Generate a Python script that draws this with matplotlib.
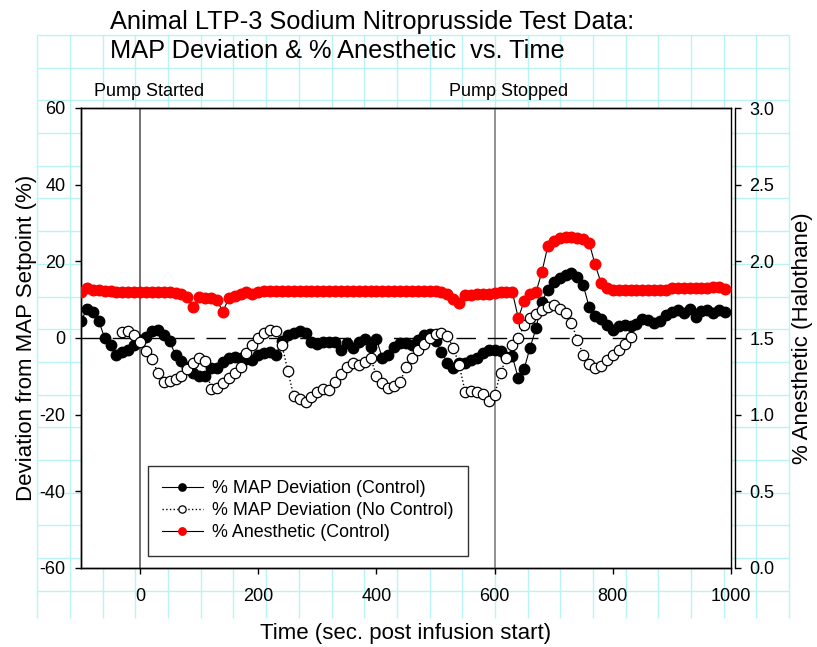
import numpy as np
import matplotlib
matplotlib.use("Agg")
import matplotlib.pyplot as plt

plt.rcParams['font.family'] = ['Liberation Sans', 'DejaVu Sans']
plt.rcParams['axes.unicode_minus'] = False

# time axis (sec. post infusion start), one sample every 10 s
t_ctrl = np.arange(-100, 1000, 10)
t_noctrl = np.arange(-30, 840, 10)

# % MAP deviation, with control
map_ctrl = [4.5, 7.5, 6.9, 4.5, 0.0, -1.8, -4.5, -3.6, -3.0, -1.8,
            -0.5, 0.3, 1.8, 2.1, 0.8, -0.8, -4.5, -6.0, -7.5, -9.2,
            -9.8, -10.0, -7.9, -7.9, -6.2, -5.3, -5.0, -5.2, -5.6, -5.7,
            -4.5, -3.9, -3.6, -4.4, -0.8, 0.8, 1.2, 1.8, 1.2, -1.0,
            -1.5, -1.0, -1.0, -1.0, -3.1, -1.4, -2.7, -1.0, -0.3, -2.3,
            -0.3, -5.3, -4.4, -2.3, -1.4, -1.2, -1.8, -0.5, 0.8, 1.0,
            -0.8, -3.6, -6.4, -7.9, -6.6, -6.6, -5.8, -5.2, -4.0, -3.2,
            -3.1, -3.5, -5.0, -4.8, -10.5, -8.0, -2.5, 2.5, 9.5, 12.6,
            14.5, 15.6, 16.5, 16.9, 15.8, 13.8, 8.0, 5.8, 5.0, 3.5,
            2.2, 3.2, 3.4, 3.1, 3.6, 5.0, 4.6, 3.8, 4.5, 6.0,
            6.8, 7.2, 6.4, 7.6, 5.5, 7.0, 7.3, 6.4, 7.4, 6.8]

# % MAP deviation, no control
map_noctrl = [1.5, 1.7, 0.8, -1.0, -3.5, -5.5, -9.0, -11.4, -11.2, -10.7,
              -9.8, -8.0, -6.4, -5.3, -6.0, -13.4, -13.0, -11.8, -10.5, -9.2,
              -7.6, -4.0, -1.8, 0.0, 1.2, 2.1, 1.7, -1.8, -8.5, -15.2,
              -15.9, -16.8, -15.3, -14.1, -13.3, -13.5, -11.4, -9.5, -7.6, -6.6,
              -7.0, -6.2, -5.2, -9.8, -11.8, -13.0, -12.5, -11.6, -7.5, -5.3,
              -3.2, -1.6, 0.0, 1.0, 1.2, 0.5, -2.5, -7.0, -14.0, -13.7,
              -14.0, -14.6, -16.5, -14.9, -9.0, -5.3, -1.8, 0.0, 3.3, 5.2,
              6.2, 7.3, 8.2, 8.6, 7.5, 6.5, 4.0, -0.5, -4.4, -6.8,
              -7.8, -7.2, -5.8, -4.4, -3.0, -1.6, 0.3]

# % anesthetic (halothane), with control
anest = [1.80, 1.824, 1.815, 1.81, 1.807, 1.805, 1.80, 1.80, 1.80, 1.80,
         1.80, 1.80, 1.80, 1.80, 1.80, 1.80, 1.795, 1.785, 1.765, 1.70,
         1.77, 1.76, 1.76, 1.75, 1.67, 1.76, 1.775, 1.785, 1.80, 1.785,
         1.80, 1.805, 1.805, 1.807, 1.807, 1.808, 1.808, 1.808, 1.808, 1.808,
         1.808, 1.808, 1.808, 1.808, 1.808, 1.808, 1.808, 1.808, 1.808, 1.808,
         1.808, 1.808, 1.808, 1.808, 1.808, 1.808, 1.808, 1.808, 1.808, 1.808,
         1.805, 1.80, 1.79, 1.755, 1.73, 1.78, 1.78, 1.785, 1.79, 1.79,
         1.795, 1.80, 1.80, 1.80, 1.63, 1.74, 1.79, 1.80, 1.93, 2.10,
         2.135, 2.152, 2.157, 2.157, 2.155, 2.148, 2.12, 1.98, 1.86, 1.825,
         1.81, 1.81, 1.81, 1.81, 1.81, 1.81, 1.81, 1.81, 1.81, 1.815,
         1.824, 1.824, 1.824, 1.824, 1.824, 1.824, 1.824, 1.83, 1.835, 1.82]

W, H = 817, 647
fig = plt.figure(figsize=(W / 100, H / 100), dpi=100)

# cyan paper grid behind everything
bg = fig.add_axes([0, 0, 1, 1], zorder=-10)
bg.set_xlim(0, W)
bg.set_ylim(H, 0)
bg.axis('off')
step = 32.69
xs = 37.3 + step * np.arange(24)
ys = 35 + step * np.arange(18)
bg.vlines(xs, 35, 618, color='#b8f4f4', lw=1)
bg.hlines(ys, 37.3, xs[-1], color='#b8f4f4', lw=1)

ax = fig.add_axes([81 / W, 1 - 568 / H, 650 / W, 460 / H])
ax2 = ax.twinx()
ax.set_zorder(ax2.get_zorder() + 1)
ax.patch.set_visible(False)
ax2.patch.set_visible(True)
ax2.patch.set_facecolor('white')

ax.set_xlim(-100, 1000)
ax.set_ylim(-60, 60)
ax2.set_ylim(0, 3.0)

ax.axvline(0, color='0.3', lw=1.1, zorder=1)
ax.axvline(600, color='0.45', lw=1.1, zorder=1)
ax.axhline(0, color='black', lw=1, linestyle=(0, (14, 8.5)), zorder=1)

l1, = ax.plot(t_ctrl, map_ctrl, '-', color='black', lw=0.8, marker='o', ms=7.5,
              mfc='black', mec='black', zorder=3)
l2, = ax.plot(t_noctrl, map_noctrl, ':', color='black', lw=1, marker='o', ms=7.5,
              mfc='white', mec='black', mew=0.9, zorder=4)
l3, = ax.plot(t_ctrl, np.array(anest) * 40 - 60, '-', color='black', lw=0.8, marker='o',
              ms=7.6, mfc='red', mec='red', zorder=5)

ax.set_xticks([0, 200, 400, 600, 800, 1000])
ax.set_yticks([-60, -40, -20, 0, 20, 40, 60])
ax2.set_yticks([0.0, 0.5, 1.0, 1.5, 2.0, 2.5, 3.0])
ax2.set_yticklabels(['0.0', '0.5', '1.0', '1.5', '2.0', '2.5', '3.0'])

ax.tick_params(axis='both', direction='out', length=4.3, width=1, labelsize=13, pad=10)
ax.tick_params(axis='y', pad=7)
ax2.tick_params(axis='y', direction='out', length=4.3, width=1, labelsize=13, pad=6)
ax2.spines['right'].set_position(('outward', 3))
for a in (ax, ax2):
    for s in a.spines.values():
        s.set_linewidth(1)

ax.set_xlabel('Time (sec. post infusion start)', fontsize=16)
ax.xaxis.set_label_coords(0.5, -0.12)
ax.set_ylabel('Deviation from MAP Setpoint (%)', fontsize=16)
ax.yaxis.set_label_coords(-0.068, 0.5)
ax2.set_ylabel('% Anesthetic (Halothane)', fontsize=16)
ax2.yaxis.set_label_coords(1.094, 0.5)

fig.text(110 / W, 1 - 29 / H, 'Animal LTP-3 Sodium Nitroprusside Test Data:',
         fontsize=18.3, ha='left', va='baseline')
fig.text(110 / W, 1 - 58 / H, 'MAP Deviation & % Anesthetic  vs. Time',
         fontsize=18.3, ha='left', va='baseline')
fig.text(94 / W, 1 - 96 / H, 'Pump Started', fontsize=13, ha='left', va='baseline')
fig.text(449 / W, 1 - 96 / H, 'Pump Stopped', fontsize=13, ha='left', va='baseline')

leg = ax.legend([l1, l2, l3],
                ['% MAP Deviation (Control)', '% MAP Deviation (No Control)', '% Anesthetic (Control)'],
                loc='upper left', bbox_to_anchor=(148 / W, 1 - 466 / H), bbox_transform=fig.transFigure,
                fontsize=12.9, frameon=True, fancybox=False, borderaxespad=0, borderpad=0.8,
                handlelength=2.25, handletextpad=0.55, labelspacing=0.28, markerscale=0.7)
leg.get_frame().set_edgecolor('black')
leg.get_frame().set_linewidth(1)

fig.savefig('out.png', dpi=100)
